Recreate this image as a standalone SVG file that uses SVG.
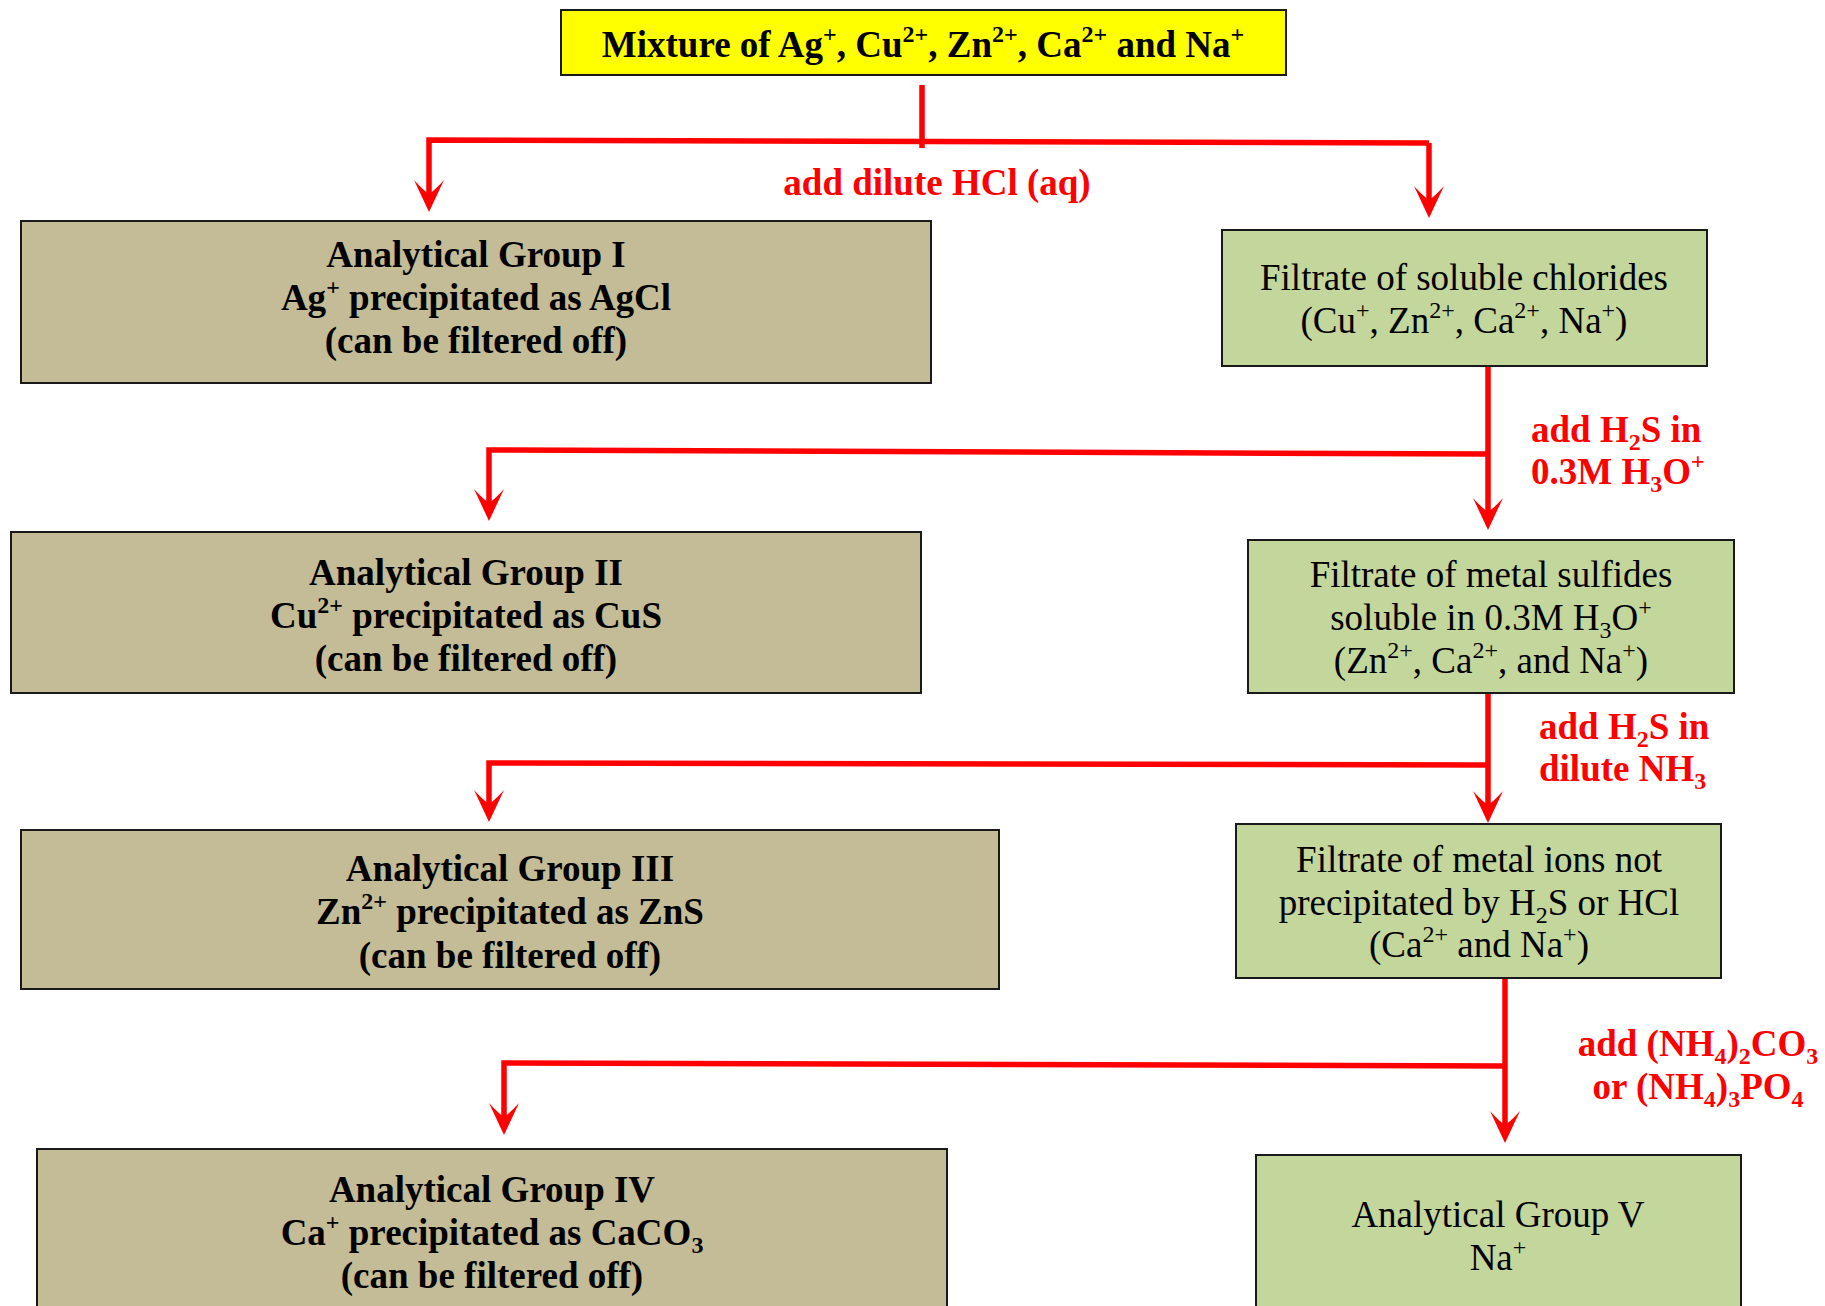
<svg xmlns="http://www.w3.org/2000/svg" width="1825" height="1306" viewBox="0 0 1825 1306">
<style>
text{font-family:"Liberation Serif","Times New Roman",serif;font-size:37px;fill:#000;text-anchor:middle}
.b{font-weight:bold}
.red{fill:#FF0000;font-weight:bold}
.l{text-anchor:start}
.s{font-size:24px}
.tan{fill:#C4BC96;stroke:#1a1a1a;stroke-width:2}
.grn{fill:#C3D69B;stroke:#1a1a1a;stroke-width:2}
.yel{fill:#FFFF00;stroke:#1a1a1a;stroke-width:2}
.c{fill:none;stroke:#FF0000;stroke-width:5.5;stroke-linejoin:miter}
</style>
<defs>
<marker id="ah" markerUnits="userSpaceOnUse" viewBox="-34 -17 36 34" refX="-10" refY="0" markerWidth="36" markerHeight="34" orient="auto">
<path d="M0,0 L-32,-15 Q-22,-6 -18,0 Q-22,6 -32,15 Z" fill="#FF0000"/>
</marker>
</defs>
<g id="connectors">
<path class="c" d="M922,85 V148"/>
<path class="c" d="M1429,143 L429,140 V202" marker-end="url(#ah)"/>
<path class="c" d="M1429,143 V208" marker-end="url(#ah)"/>
<path class="c" d="M1488,366 V520" marker-end="url(#ah)"/>
<path class="c" d="M1488,454 L489,450 V511" marker-end="url(#ah)"/>
<path class="c" d="M1488,694 V813" marker-end="url(#ah)"/>
<path class="c" d="M1488,765 L489,763 V812" marker-end="url(#ah)"/>
<path class="c" d="M1505,978 V1133" marker-end="url(#ah)"/>
<path class="c" d="M1505,1066 L504,1063 V1125" marker-end="url(#ah)"/>
</g>
<g id="labels">
<text class="red" x="937" y="195">add dilute HCl (aq)</text>
<text class="red l" x="1531" y="442">add H<tspan class="s" dy="8">2</tspan><tspan dy="-8">S in</tspan></text>
<text class="red l" x="1531" y="484">0.3M H<tspan class="s" dy="8">3</tspan><tspan dy="-8">O</tspan><tspan class="s" dy="-15">+</tspan></text>
<text class="red l" x="1539" y="739">add H<tspan class="s" dy="8">2</tspan><tspan dy="-8">S in</tspan></text>
<text class="red l" x="1539" y="781">dilute NH<tspan class="s" dy="8">3</tspan></text>
<text class="red" x="1698" y="1056">add (NH<tspan class="s" dy="8">4</tspan><tspan dy="-8">)</tspan><tspan class="s" dy="8">2</tspan><tspan dy="-8">CO</tspan><tspan class="s" dy="8">3</tspan></text>
<text class="red" x="1698" y="1099">or (NH<tspan class="s" dy="8">4</tspan><tspan dy="-8">)</tspan><tspan class="s" dy="8">3</tspan><tspan dy="-8">PO</tspan><tspan class="s" dy="8">4</tspan></text>
</g>
<g id="mixture">
<rect class="yel" x="561" y="10" width="725" height="65"/>
<text class="b" x="923" y="57">Mixture of Ag<tspan class="s" dy="-15">+</tspan><tspan dy="15">, Cu</tspan><tspan class="s" dy="-15">2+</tspan><tspan dy="15">, Zn</tspan><tspan class="s" dy="-15">2+</tspan><tspan dy="15">, Ca</tspan><tspan class="s" dy="-15">2+</tspan><tspan dy="15"> and Na</tspan><tspan class="s" dy="-15">+</tspan></text>
</g>
<g id="group1">
<rect class="tan" x="21" y="221" width="910" height="162"/>
<text class="b" x="476" y="267">Analytical Group I</text>
<text class="b" x="476" y="310">Ag<tspan class="s" dy="-15">+</tspan><tspan dy="15"> precipitated as AgCl</tspan></text>
<text class="b" x="476" y="353">(can be filtered off)</text>
</g>
<g id="filtrate1">
<rect class="grn" x="1222" y="230" width="485" height="136"/>
<text x="1464" y="290">Filtrate of soluble chlorides</text>
<text x="1464" y="333">(Cu<tspan class="s" dy="-15">+</tspan><tspan dy="15">, Zn</tspan><tspan class="s" dy="-15">2+</tspan><tspan dy="15">, Ca</tspan><tspan class="s" dy="-15">2+</tspan><tspan dy="15">, Na</tspan><tspan class="s" dy="-15">+</tspan><tspan dy="15">)</tspan></text>
</g>
<g id="group2">
<rect class="tan" x="11" y="532" width="910" height="161"/>
<text class="b" x="466" y="585">Analytical Group II</text>
<text class="b" x="466" y="628">Cu<tspan class="s" dy="-15">2+</tspan><tspan dy="15"> precipitated as CuS</tspan></text>
<text class="b" x="466" y="671">(can be filtered off)</text>
</g>
<g id="filtrate2">
<rect class="grn" x="1248" y="540" width="486" height="153"/>
<text x="1491" y="587">Filtrate of metal sulfides</text>
<text x="1491" y="630">soluble in 0.3M H<tspan class="s" dy="8">3</tspan><tspan dy="-8">O</tspan><tspan class="s" dy="-15">+</tspan></text>
<text x="1491" y="673">(Zn<tspan class="s" dy="-15">2+</tspan><tspan dy="15">, Ca</tspan><tspan class="s" dy="-15">2+</tspan><tspan dy="15">, and Na</tspan><tspan class="s" dy="-15">+</tspan><tspan dy="15">)</tspan></text>
</g>
<g id="group3">
<rect class="tan" x="21" y="830" width="978" height="159"/>
<text class="b" x="510" y="881">Analytical Group III</text>
<text class="b" x="510" y="924">Zn<tspan class="s" dy="-15">2+</tspan><tspan dy="15"> precipitated as ZnS</tspan></text>
<text class="b" x="510" y="968">(can be filtered off)</text>
</g>
<g id="filtrate3">
<rect class="grn" x="1236" y="824" width="485" height="154"/>
<text x="1479" y="872">Filtrate of metal ions not</text>
<text x="1479" y="915">precipitated by H<tspan class="s" dy="8">2</tspan><tspan dy="-8">S or HCl</tspan></text>
<text x="1479" y="957">(Ca<tspan class="s" dy="-15">2+</tspan><tspan dy="15"> and Na</tspan><tspan class="s" dy="-15">+</tspan><tspan dy="15">)</tspan></text>
</g>
<g id="group4">
<rect class="tan" x="37" y="1149" width="910" height="180"/>
<text class="b" x="492" y="1202">Analytical Group IV</text>
<text class="b" x="492" y="1245">Ca<tspan class="s" dy="-15">+</tspan><tspan dy="15"> precipitated as CaCO</tspan><tspan class="s" dy="8">3</tspan></text>
<text class="b" x="492" y="1288">(can be filtered off)</text>
</g>
<g id="group5">
<rect class="grn" x="1256" y="1155" width="485" height="180"/>
<text x="1498" y="1227">Analytical Group V</text>
<text x="1498" y="1270">Na<tspan class="s" dy="-15">+</tspan></text>
</g>
</svg>
